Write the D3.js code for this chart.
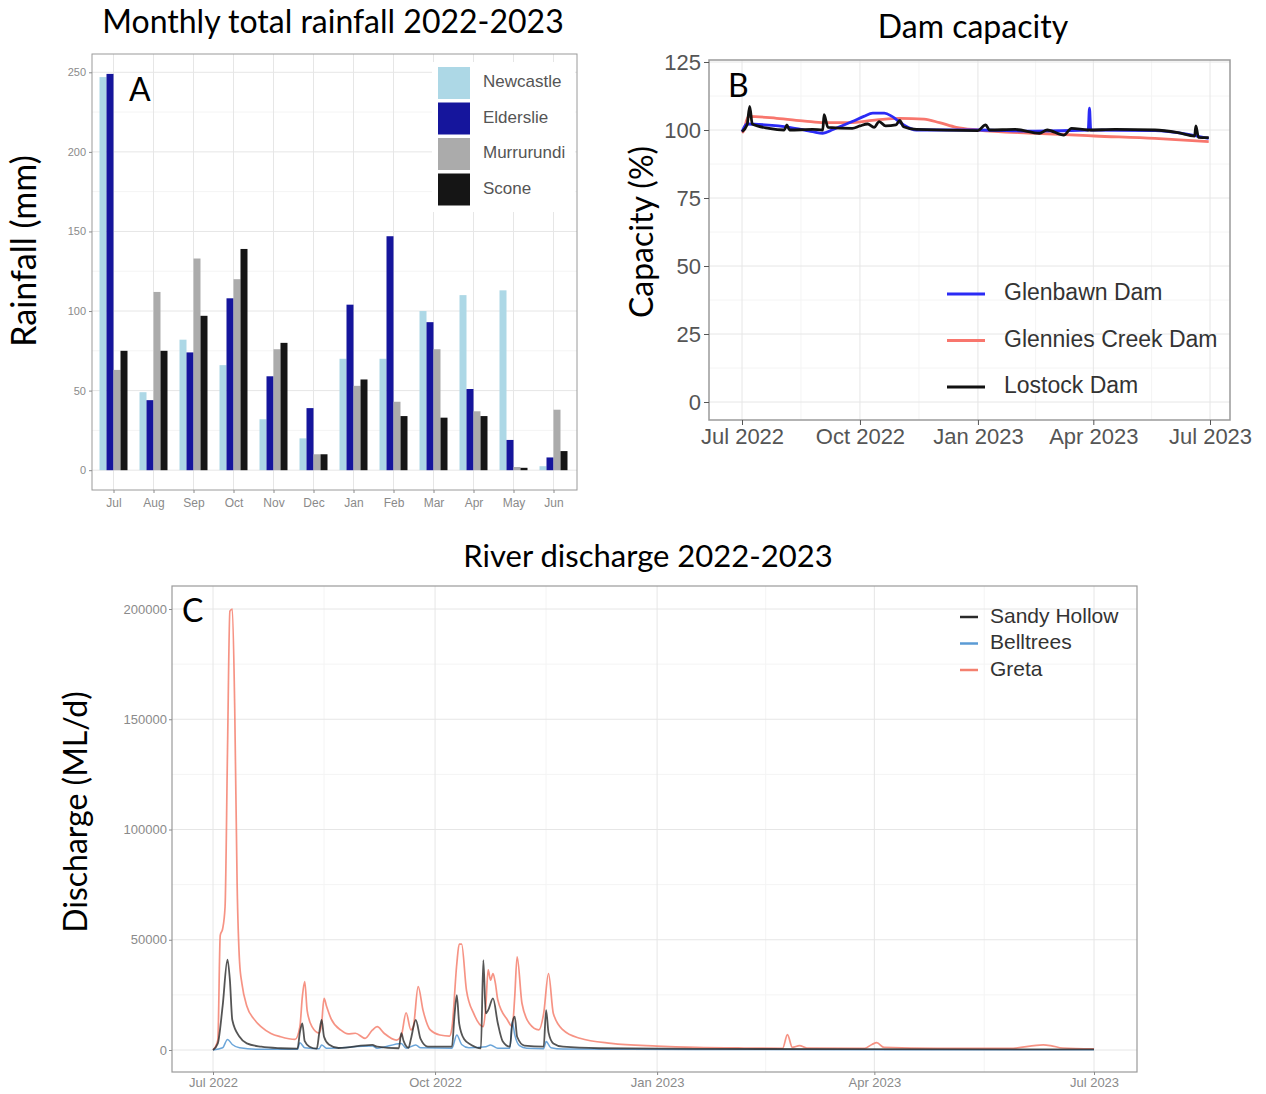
<!DOCTYPE html>
<html><head><meta charset="utf-8">
<script src="https://cdn.jsdelivr.net/npm/d3@7"></script>
<style>body{margin:0;background:#fff} svg{display:block}</style>
</head><body>
<svg id="c" width="1266" height="1094"></svg>
<script>
// ---------- Panel A data ----------
const months = ["Jul","Aug","Sep","Oct","Nov","Dec","Jan","Feb","Mar","Apr","May","Jun"];
const rainStations = ["Newcastle","Elderslie","Murrurundi","Scone"];
const rainNewcastle  = [247, 49, 82, 66, 32, 20, 70, 70, 100, 110, 113, 2.5];
const rainElderslie  = [249, 44, 74, 108, 59, 39, 104, 147, 93, 51, 19, 8];
const rainMurrurundi = [63, 112, 133, 120, 76, 10, 53, 43, 76, 37, 2, 38];
const rainScone      = [75, 75, 97, 139, 80, 10, 57, 34, 33, 34, 1.5, 12];
const rainTicks = [0, 50, 100, 150, 200, 250];

// ---------- Panel B data ----------
const damNames = ["Glenbawn Dam","Glennies Creek Dam","Lostock Dam"];
const glenbawn = [["2022-07-01",99.4],["2022-07-05",102.2],["2022-07-19",101.9],["2022-08-07",101],["2022-08-25",99.4],["2022-09-02",98.8],["2022-09-10",100.2],["2022-09-25",103.1],["2022-10-04",105],["2022-10-11",106.2],["2022-10-20",106.2],["2022-10-26",105],["2022-11-03",102.2],["2022-11-14",100],["2023-01-01",100],["2023-02-15",99.6],["2023-03-28",100],["2023-03-29",108],["2023-03-30",100],["2023-05-19",99.8],["2023-06-13",98.5],["2023-06-30",96.9]];
const glennies = [["2022-07-01",99],["2022-07-02",99.5],["2022-07-06",105],["2022-07-28",104.3],["2022-08-19",103.3],["2022-09-03",102.7],["2022-09-22",102.7],["2022-10-14",103.7],["2022-11-01",104.3],["2022-11-20",104],["2022-12-02",102.7],["2022-12-15",101],["2023-01-01",100],["2023-02-15",98.8],["2023-04-02",97.8],["2023-05-19",96.9],["2023-06-30",95.7]];
const lostock = [["2022-07-01",99.4],["2022-07-05",101.9],["2022-07-07",108.7],["2022-07-09",102.2],["2022-07-22",100.6],["2022-08-03",100],["2022-08-05",101.9],["2022-08-07",100],["2022-08-25",100.2],["2022-09-02",100],["2022-09-03",105.6],["2022-09-06",101],["2022-09-25",100.6],["2022-10-01",101.5],["2022-10-07",102.2],["2022-10-12",101],["2022-10-16",103.1],["2022-10-21",101.5],["2022-10-29",101.9],["2022-11-01",103.5],["2022-11-04",101.2],["2022-11-14",100.2],["2023-01-01",99.8],["2023-01-07",101.9],["2023-01-10",100],["2023-01-30",100.2],["2023-02-18",98.8],["2023-02-24",100],["2023-03-09",98.1],["2023-03-15",100.6],["2023-03-28",100],["2023-04-18",100.2],["2023-05-19",100],["2023-06-06",99],["2023-06-19",97.8],["2023-06-20",101.5],["2023-06-22",97.3],["2023-06-30",97.2]];
const damTicks = [0, 25, 50, 75, 100, 125];

// ---------- Panel C data ----------
const riverNames = ["Sandy Hollow","Belltrees","Greta"];
const greta = [["2022-07-01",0],["2022-07-03",4500],["2022-07-04",52000],["2022-07-05",55000],["2022-07-06",65000],["2022-07-07",135000],["2022-07-08",199000],["2022-07-09",200000],["2022-07-10",155000],["2022-07-11",75000],["2022-07-12",40000],["2022-07-13",30000],["2022-07-15",20000],["2022-07-18",14000],["2022-07-21",10500],["2022-07-25",7500],["2022-07-29",6000],["2022-08-04",4800],["2022-08-06",10600],["2022-08-07",24000],["2022-08-08",31000],["2022-08-09",18000],["2022-08-11",10600],["2022-08-14",7700],["2022-08-15",12000],["2022-08-16",23400],["2022-08-17",20000],["2022-08-19",14000],["2022-08-23",9000],["2022-08-26",7300],["2022-08-29",7600],["2022-09-02",5300],["2022-09-05",9000],["2022-09-07",10600],["2022-09-10",7500],["2022-09-15",4500],["2022-09-17",6500],["2022-09-19",16900],["2022-09-21",9100],["2022-09-22",10600],["2022-09-24",28700],["2022-09-26",18100],["2022-09-29",9100],["2022-10-03",6800],["2022-10-07",6300],["2022-10-08",10000],["2022-10-10",39000],["2022-10-11",48000],["2022-10-12",48000],["2022-10-14",27200],["2022-10-17",16600],["2022-10-21",10600],["2022-10-22",19600],["2022-10-23",36300],["2022-10-24",31700],["2022-10-25",34700],["2022-10-26",30200],["2022-10-27",22700],["2022-10-31",13600],["2022-11-02",10600],["2022-11-03",24000],["2022-11-04",42300],["2022-11-06",21200],["2022-11-09",12100],["2022-11-13",9100],["2022-11-15",16600],["2022-11-17",34700],["2022-11-19",16600],["2022-11-23",9100],["2022-11-30",5300],["2022-12-13",3000],["2023-01-01",1800],["2023-01-17",1200],["2023-02-06",900],["2023-02-22",800],["2023-02-24",7000],["2023-02-26",1200],["2023-03-01",2000],["2023-03-04",900],["2023-03-28",800],["2023-03-31",2500],["2023-04-02",3300],["2023-04-05",1200],["2023-04-27",700],["2023-05-27",700],["2023-06-10",2300],["2023-06-13",2000],["2023-06-18",900],["2023-07-01",500]];
const sandyHollow = [["2022-07-01",0],["2022-07-03",3000],["2022-07-05",20000],["2022-07-07",41000],["2022-07-08",31700],["2022-07-09",13600],["2022-07-12",6000],["2022-07-15",3000],["2022-07-21",1500],["2022-07-29",800],["2022-08-05",600],["2022-08-06",8000],["2022-08-07",12100],["2022-08-08",4000],["2022-08-10",1500],["2022-08-13",600],["2022-08-14",7600],["2022-08-15",13600],["2022-08-16",6000],["2022-08-18",2500],["2022-08-22",900],["2022-09-05",2300],["2022-09-07",1500],["2022-09-16",800],["2022-09-17",7600],["2022-09-18",4000],["2022-09-20",1000],["2022-09-21",5000],["2022-09-23",13600],["2022-09-25",5000],["2022-09-28",1500],["2022-10-08",1500],["2022-10-09",15000],["2022-10-10",24900],["2022-10-11",12000],["2022-10-13",5000],["2022-10-16",2300],["2022-10-20",800],["2022-10-21",40800],["2022-10-22",16600],["2022-10-23",18100],["2022-10-25",23400],["2022-10-27",12100],["2022-10-29",4000],["2022-11-01",1500],["2022-11-02",12100],["2022-11-03",15100],["2022-11-04",6000],["2022-11-07",2000],["2022-11-15",1500],["2022-11-16",18100],["2022-11-17",8000],["2022-11-19",3000],["2022-11-23",1500],["2022-12-08",800],["2023-01-17",500],["2023-07-01",300]];
const belltrees = [["2022-07-01",0],["2022-07-05",1000],["2022-07-07",4800],["2022-07-09",2500],["2022-07-12",1000],["2022-07-21",300],["2022-08-05",300],["2022-08-06",3300],["2022-08-08",1000],["2022-08-14",600],["2022-08-15",2300],["2022-08-17",800],["2022-09-05",1800],["2022-09-07",800],["2022-09-17",3000],["2022-09-19",800],["2022-09-23",2300],["2022-09-25",1000],["2022-10-08",800],["2022-10-10",6800],["2022-10-12",2500],["2022-10-15",1000],["2022-10-22",1500],["2022-10-24",2300],["2022-10-27",800],["2022-11-01",800],["2022-11-02",12800],["2022-11-03",7000],["2022-11-05",2000],["2022-11-08",800],["2022-11-15",600],["2022-11-16",3800],["2022-11-18",1000],["2022-11-23",400],["2023-01-17",200],["2023-07-01",100]];
const dischargeTicks = [0, 50000, 100000, 150000, 200000];
const dateTicks = ["2022-07-01","2022-10-01","2023-01-01","2023-04-01","2023-07-01"];

// ---------- drawing ----------
const svg = d3.select("#c");
const parse = d3.timeParse("%Y-%m-%d");
const TICKF = "'Liberation Sans', Arial, sans-serif";
const LABF = "Lato, 'Open Sans', sans-serif";
const GRID_MAJ = "#e6e6e6", GRID_MIN = "#f4f4f4", BORDER = "#9a9a9a";

function hline(g, y, x0, x1, c) { g.append("line").attr("x1",x0).attr("x2",x1).attr("y1",y).attr("y2",y).attr("stroke",c).attr("stroke-width",1); }
function vline(g, x, y0, y1, c) { g.append("line").attr("x1",x).attr("x2",x).attr("y1",y0).attr("y2",y1).attr("stroke",c).attr("stroke-width",1); }
function styleAxis(g, size, color) {
  g.select(".domain").remove();
  g.selectAll(".tick line").attr("stroke", color);
  g.selectAll(".tick text").attr("fill", color).style("font-family", TICKF).style("font-size", size + "px");
}
function label(parent, x, y, size, txt, anchor, transform) {
  const t = parent.append("text").style("font-family", LABF).style("font-size", size + "px").attr("fill", "#000").text(txt);
  if (transform) t.attr("transform", transform); else t.attr("x", x).attr("y", y);
  if (anchor) t.attr("text-anchor", anchor);
  return t;
}

// ===== Panel A =====
{
  const box = {l: 92, r: 577, t: 54, b: 490};
  const x = d3.scalePoint().domain(months).range([113.5, 553.5]);
  const y = d3.scaleLinear().domain([-12.45, 261.5]).range([box.b, box.t]);
  const sub = d3.scaleBand().domain(rainStations).range([-14, 14]);
  const colors = {Newcastle: "#add8e6", Elderslie: "#15159c", Murrurundi: "#ababab", Scone: "#151515"};
  const seriesVals = {Newcastle: rainNewcastle, Elderslie: rainElderslie, Murrurundi: rainMurrurundi, Scone: rainScone};
  const g = svg.append("g");
  for (let i = 0; i < rainTicks.length - 1; i++) hline(g, y((rainTicks[i] + rainTicks[i+1]) / 2), box.l, box.r, GRID_MIN);
  rainTicks.forEach(t => hline(g, y(t), box.l, box.r, GRID_MAJ));
  months.forEach(m => vline(g, x(m), box.t, box.b, GRID_MAJ));
  rainStations.forEach(s => {
    g.append("g").selectAll("rect").data(seriesVals[s]).join("rect")
      .attr("x", (d, i) => x(months[i]) + sub(s))
      .attr("width", sub.bandwidth())
      .attr("y", d => y(d))
      .attr("height", d => y(0) - y(d))
      .attr("fill", colors[s]);
  });
  g.append("rect").attr("x", box.l).attr("y", box.t).attr("width", box.r - box.l).attr("height", box.b - box.t)
    .attr("fill", "none").attr("stroke", BORDER);
  const ya = g.append("g").attr("transform", `translate(${box.l},0)`).call(d3.axisLeft(y).tickValues(rainTicks).tickSize(3).tickPadding(3));
  styleAxis(ya, 11, "#8a8a8a");
  const xa = g.append("g").attr("transform", `translate(0,${box.b})`).call(d3.axisBottom(x).tickSize(3).tickPadding(5));
  styleAxis(xa, 12, "#8a8a8a");
  // legend
  g.append("rect").attr("x", 432).attr("y", 62).attr("width", 143).attr("height", 150).attr("fill", "#fff");
  rainStations.forEach((s, i) => {
    g.append("rect").attr("x", 438).attr("y", 67 + i * 35.5).attr("width", 32).attr("height", 32).attr("fill", colors[s]);
    g.append("text").attr("x", 483).attr("y", 83 + i * 35.5).attr("dominant-baseline", "middle")
      .style("font-family", TICKF).style("font-size", "17px").attr("fill", "#555").text(s);
  });
  label(g, 129, 101, 32, "A");
  label(svg, 333, 33, 32, "Monthly total rainfall 2022-2023", "middle");
  label(svg, 0, 0, 34, "Rainfall (mm)", "middle", "translate(36,251) rotate(-90)");
}

function minorDates(ticks) {
  const out = [];
  for (let i = 0; i < ticks.length - 1; i++) out.push(new Date((ticks[i].getTime() + ticks[i+1].getTime()) / 2));
  return out;
}

// ===== Panel B =====
{
  const box = {l: 709, r: 1230, t: 60, b: 420};
  const dt = dateTicks.map(parse);
  const x = d3.scaleTime().domain([dt[0], dt[4]]).range([742, 1210]);
  const y = d3.scaleLinear().domain([0, 125]).range([402, 62]);
  const g = svg.append("g");
  svg.append("clipPath").attr("id", "clipB").append("rect").attr("x", box.l).attr("y", box.t).attr("width", box.r - box.l).attr("height", box.b - box.t);
  [-12.5].concat(damTicks.map(t => t + 12.5)).forEach(t => { const yy = y(t); if (yy > box.t && yy < box.b) hline(g, yy, box.l, box.r, GRID_MIN); });
  minorDates(dt).forEach(d => vline(g, x(d), box.t, box.b, GRID_MIN));
  damTicks.forEach(t => hline(g, y(t), box.l, box.r, GRID_MAJ));
  dt.forEach(d => vline(g, x(d), box.t, box.b, GRID_MAJ));
  const line = d3.line().x(d => x(parse(d[0]))).y(d => y(d[1])).curve(d3.curveMonotoneX);
  const series = [[glennies, "#f8766d"], [glenbawn, "#2b2bf5"], [lostock, "#111"]];
  const lg = g.append("g").attr("clip-path", "url(#clipB)");
  series.forEach(([data, c]) => lg.append("path").datum(data).attr("d", line).attr("fill", "none").attr("stroke", c).attr("stroke-width", 2.8).attr("stroke-linejoin", "round"));
  g.append("rect").attr("x", box.l).attr("y", box.t).attr("width", box.r - box.l).attr("height", box.b - box.t).attr("fill", "none").attr("stroke", BORDER).attr("stroke-width", 1.5);
  const ya = g.append("g").attr("transform", `translate(${box.l},0)`).call(d3.axisLeft(y).tickValues(damTicks).tickSize(5).tickPadding(3));
  styleAxis(ya, 22, "#555");
  const xa = g.append("g").attr("transform", `translate(0,${box.b})`).call(d3.axisBottom(x).tickValues(dt).tickFormat(d3.timeFormat("%b %Y")).tickSize(5).tickPadding(3));
  styleAxis(xa, 22, "#555");
  const legColors = {"Glenbawn Dam": "#2b2bf5", "Glennies Creek Dam": "#f8766d", "Lostock Dam": "#111"};
  damNames.forEach((n, i) => {
    const yy = 294 + i * 46.5;
    g.append("line").attr("x1", 947).attr("x2", 985).attr("y1", yy).attr("y2", yy).attr("stroke", legColors[n]).attr("stroke-width", 3);
    g.append("text").attr("x", 1004).attr("y", yy).attr("dominant-baseline", "middle").style("font-family", TICKF).style("font-size", "23px").attr("fill", "#333").text(n);
  });
  label(g, 728, 97, 32, "B");
  label(svg, 973, 38, 32, "Dam capacity", "middle");
  label(svg, 0, 0, 32, "Capacity (%)", "middle", "translate(653,232) rotate(-90)");
}

// ===== Panel C =====
{
  const box = {l: 172, r: 1137, t: 586, b: 1072};
  const dt = dateTicks.map(parse);
  const x = d3.scaleTime().domain([dt[0], dt[4]]).range([213, 1094]);
  const y = d3.scaleLinear().domain([0, 200000]).range([1050, 609]);
  const g = svg.append("g");
  svg.append("clipPath").attr("id", "clipC").append("rect").attr("x", box.l).attr("y", box.t).attr("width", box.r - box.l).attr("height", box.b - box.t);
  for (let i = 0; i < dischargeTicks.length - 1; i++) hline(g, y((dischargeTicks[i] + dischargeTicks[i+1]) / 2), box.l, box.r, GRID_MIN);
  minorDates(dt).forEach(d => vline(g, x(d), box.t, box.b, GRID_MIN));
  dischargeTicks.forEach(t => hline(g, y(t), box.l, box.r, GRID_MAJ));
  dt.forEach(d => vline(g, x(d), box.t, box.b, GRID_MAJ));
  const line = d3.line().x(d => x(parse(d[0]))).y(d => y(d[1])).curve(d3.curveMonotoneX);
  const colors = {"Sandy Hollow": "#2a2a2a", "Belltrees": "#5b9bd5", "Greta": "#f4806f"};
  const lg = g.append("g").attr("clip-path", "url(#clipC)");
  lg.append("path").datum(greta).attr("d", line).attr("fill", "none").attr("stroke", colors["Greta"]).attr("stroke-opacity", 0.85).attr("stroke-width", 1.7);
  lg.append("path").datum(belltrees).attr("d", line).attr("fill", "none").attr("stroke", colors["Belltrees"]).attr("stroke-opacity", 0.9).attr("stroke-width", 1.5);
  lg.append("path").datum(sandyHollow).attr("d", line).attr("fill", "none").attr("stroke", colors["Sandy Hollow"]).attr("stroke-opacity", 0.8).attr("stroke-width", 1.8);
  g.append("rect").attr("x", box.l).attr("y", box.t).attr("width", box.r - box.l).attr("height", box.b - box.t).attr("fill", "none").attr("stroke", BORDER).attr("stroke-width", 1.2);
  const ya = g.append("g").attr("transform", `translate(${box.l},0)`).call(d3.axisLeft(y).tickValues(dischargeTicks).tickFormat(d3.format("d")).tickSize(3).tickPadding(2));
  styleAxis(ya, 13, "#8a8a8a");
  const xa = g.append("g").attr("transform", `translate(0,${box.b})`).call(d3.axisBottom(x).tickValues(dt).tickFormat(d3.timeFormat("%b %Y")).tickSize(3).tickPadding(3));
  styleAxis(xa, 13, "#8a8a8a");
  riverNames.forEach((n, i) => {
    const yy = 617 + i * 26.5;
    g.append("line").attr("x1", 960).attr("x2", 978).attr("y1", yy).attr("y2", yy).attr("stroke", colors[n]).attr("stroke-width", 2.5);
    g.append("text").attr("x", 990).attr("y", yy).attr("dominant-baseline", "middle").style("font-family", TICKF).style("font-size", "21px").attr("fill", "#333").text(n);
  });
  label(g, 182, 622, 32, "C");
  label(svg, 648, 567, 31, "River discharge 2022-2023", "middle");
  label(svg, 0, 0, 32, "Discharge (ML/d)", "middle", "translate(87,812) rotate(-90)");
}
</script>
</body></html>
